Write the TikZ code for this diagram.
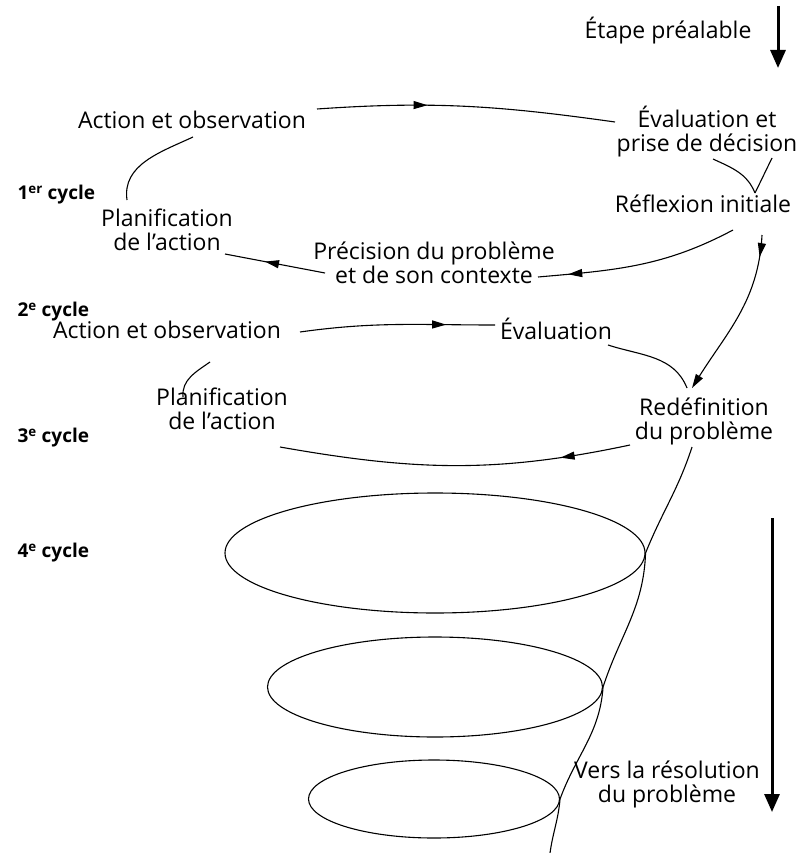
\documentclass[tikz,border=0pt]{standalone}
\usepackage{fontspec}
\setmainfont{Open Sans}
\usetikzlibrary{arrows.meta,shapes.geometric,decorations.markings}

\tikzset{
  lbl/.style={font=\fontsize{23}{24}\selectfont, align=center, inner sep=2pt},
  cyc/.style={font=\fontsize{19}{22}\selectfont\bfseries, anchor=west, inner sep=0pt},
  loop/.style={draw, ellipse, inner sep=0pt},
  midarrow/.style={postaction={decorate}, decoration={markings,
    mark=at position #1 with {\arrow{Triangle[length=14pt,width=8pt]}}}},
  bigarrow/.style={line width=3pt, -{Triangle[length=18pt,width=15pt]}}
}

\begin{document}
\begin{tikzpicture}[x=1pt, y=1pt, line width=1.1pt, >={Triangle[length=14pt,width=8pt]}]
\useasboundingbox (0,0) rectangle (800,-853);

% first cycle
\node (etape) [lbl] at (668,-31) {Étape préalable};
\node (act1) [lbl] at (192,-120) {Action et observation};
\node (eval1) [lbl] at (707,-132) {Évaluation et\\prise de décision};
\node (refl) [lbl] at (703,-204) {Réflexion initiale};
\node (plan1) [lbl] at (167,-230) {Planification\\de l’action};
\node (prec) [lbl] at (434,-263) {Précision du problème\\et de son contexte};

% second cycle
\node (act2) [lbl] at (167,-330) {Action et observation};
\node (eval2) [lbl] at (556,-329) {Évaluation};
\node (plan2) [lbl] at (222,-409) {Planification\\de l’action};
\node (redef) [lbl] at (704,-421) {Redéfinition\\du problème};

% cycle numbers
\node (cyc1) [cyc] at (17,-195) {1\textsuperscript{er} cycle};
\node (cyc2) [cyc] at (17,-312) {2\textsuperscript{e} cycle};
\node (cyc3) [cyc] at (17,-438) {3\textsuperscript{e} cycle};
\node (cyc4) [cyc] at (17,-553) {4\textsuperscript{e} cycle};

% later cycles
\node (loop4) [loop, minimum width=420pt, minimum height=120pt] at (435,-553) {};
\node (loop5) [loop, minimum width=335pt, minimum height=100pt] at (435,-687) {};
\node (loop6) [loop, minimum width=251pt, minimum height=78pt] at (434,-799) {};
\node (vers) [lbl] at (667,-784) {Vers la résolution\\du problème};

\coordinate (starttop) at (778,-6);
\coordinate (startend) at (778,-68);
\coordinate (downtop) at (772,-518);
\coordinate (downend) at (772,-812);
\coordinate (spiralend) at (550,-853);

\draw[bigarrow] (starttop) -- (startend);
\draw[bigarrow] (downtop) -- (downend);

\draw[midarrow=0.37] ([shift={(125,11)}]act1.center) to[out=4,in=172] ([shift={(-92,10)}]eval1.center);
\draw ([shift={(6,-27)}]eval1.center) to[out=-25,in=112] ([shift={(52,11)}]refl.center);
\draw ([shift={(65,-26)}]eval1.center) -- ([shift={(52,11)}]refl.center);
\draw[midarrow=0.85] ([shift={(30,-26)}]refl.center) to[out=208,in=5] ([shift={(104,-14)}]prec.center);
\draw[midarrow=0.6] ([shift={(-109,-10)}]prec.center) -- ([shift={(58,-24)}]plan1.center);
\draw ([shift={(1,-17)}]act1.center) to[out=205,in=98] ([shift={(-40,30)}]plan1.center);

\draw[->, midarrow=0.13] ([shift={(59,-31)}]refl.center) to[out=-93,in=58] ([shift={(-12,33)}]redef.center);
\draw[midarrow=0.75] ([shift={(133,-2)}]act2.center) to[out=8,in=180] ([shift={(-61,4)}]eval2.center);
\draw ([shift={(52,-16)}]eval2.center) to[out=-18,in=112] ([shift={(-17,33)}]redef.center);
\draw ([shift={(43,-32)}]act2.center) to[out=215,in=95] ([shift={(-39,12)}]plan2.center);
\draw[midarrow=0.2] ([shift={(-74,-24)}]redef.center) to[out=192,in=-10] ([shift={(58,-38)}]plan2.center);

\draw ([shift={(-12,-26)}]redef.center) to[out=-108,in=68] (loop4.east)
  to[out=-92,in=72] (loop5.east) to[out=-94,in=70] (loop6.east)
  to[out=-95,in=82] (spiralend);
\end{tikzpicture}
\end{document}
